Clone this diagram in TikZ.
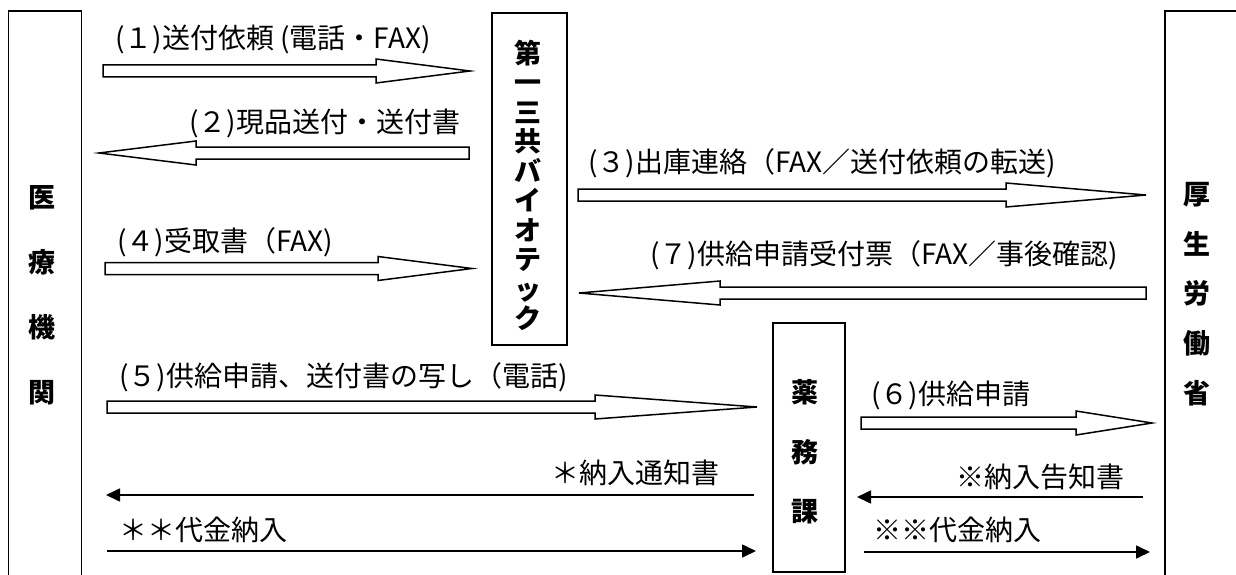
\documentclass[tikz,border=0pt]{standalone}
\usepackage{fontspec}
\newfontfamily\jp{Noto Sans CJK JP}
\usetikzlibrary{arrows.meta,calc}
\newcommand\blockarrow[3]{%
  \draw[blockarr] let \p1=(#1), \p2=(#2), \n1={sign(\x2-\x1)*(#3)} in
    (\x1,\y1-6pt) -- (\x2-\n1,\y1-6pt) -- (\x2-\n1,\y1-12pt) -- (\x2,\y2)
    -- (\x2-\n1,\y1+12pt) -- (\x2-\n1,\y1+6pt) -- (\x1,\y1+6pt) -- cycle;}
\begin{document}
\begin{tikzpicture}[x=1pt,y=-1pt,
  boxnode/.style={draw,line width=1.5pt,inner sep=0pt},
  blockarr/.style={draw,line width=1.5pt,fill=white,line join=miter},
  thinarr/.style={line width=1.6pt,-{Triangle[length=14pt,width=13pt]}},
  lab/.style={font=\jp\fontsize{28}{32}\selectfont,inner sep=0pt},
  boxtxt/.style={align=center,inner sep=0pt}]
\useasboundingbox (0,0) rectangle (1236,575);
\clip (0,0) rectangle (1236,575);
\fill[white] (0,0) rectangle (1236,575);
% boxes
\node[boxnode,minimum width=73pt,minimum height=600pt] (iryo) at (45,311) {};
\node[boxnode,minimum width=75pt,minimum height=332pt] (daiichi) at (529.5,179) {};
\node[boxnode,minimum width=72pt,minimum height=249pt] (yakumu) at (809,447.5) {};
\node[boxnode,minimum width=120pt,minimum height=600pt] (kosei) at (1225,311) {};
% box texts
\node[boxtxt,font=\jp\bfseries\fontsize{27}{65}\selectfont] (iryoT) at (42,295.5) {医\\療\\機\\関};
\node[boxtxt,font=\jp\bfseries\fontsize{27}{29.5}\selectfont] (daiichiT) at (527.5,185.5) {第\\一\\三\\共\\バ\\イ\\オ\\テ\\ッ\\ク};
\node[boxtxt,font=\jp\bfseries\fontsize{27}{59.5}\selectfont] (yakumuT) at (805,452) {薬\\務\\課};
\node[boxtxt,font=\jp\bfseries\fontsize{27}{49.6}\selectfont] (koseiT) at (1196.5,294) {厚\\生\\労\\働\\省};
% block arrow end points
\coordinate (a1t) at (103,71);   \coordinate (a1h) at (470,71);
\coordinate (a2t) at (469,153);  \coordinate (a2h) at (99,153);
\coordinate (a3t) at (578,195);  \coordinate (a3h) at (1146,195);
\coordinate (a4t) at (105,268.5);\coordinate (a4h) at (472,268.5);
\coordinate (a7t) at (1146,293); \coordinate (a7h) at (579,293);
\coordinate (a5t) at (107,407);  \coordinate (a5h) at (757,407);
\coordinate (a6t) at (861,423);  \coordinate (a6h) at (1152,423);
\blockarrow{a1t}{a1h}{94}
\blockarrow{a2t}{a2h}{97}
\blockarrow{a3t}{a3h}{140}
\blockarrow{a4t}{a4h}{94}
\blockarrow{a7t}{a7h}{141}
\blockarrow{a5t}{a5h}{162}
\blockarrow{a6t}{a6h}{76}
% thin arrows
\coordinate (t1s) at (754,495);  \coordinate (t1e) at (106,495);
\coordinate (t2s) at (107,551);  \coordinate (t2e) at (756,551);
\coordinate (t3s) at (1143,497); \coordinate (t3e) at (857,497);
\coordinate (t4s) at (864,552);  \coordinate (t4e) at (1150,552);
\draw[thinarr] (t1s) -- (t1e);
\draw[thinarr] (t2s) -- (t2e);
\draw[thinarr] (t3s) -- (t3e);
\draw[thinarr] (t4s) -- (t4e);
% labels
\node[lab,anchor=west] (l1) at (115,39) {(１)送付依頼 (電話・FAX)};
\node[lab,anchor=west] (l2) at (189,123) {(２)現品送付・送付書};
\node[lab,anchor=west] (l3) at (588,163) {(３)出庫連絡（FAX／送付依頼の転送)};
\node[lab,anchor=west] (l4) at (117,242) {(４)受取書（FAX)};
\node[lab,anchor=west] (l7) at (650,255) {(７)供給申請受付票（FAX／事後確認)};
\node[lab,anchor=west] (l5) at (119,377) {(５)供給申請、送付書の写し（電話)};
\node[lab,anchor=west] (l6) at (871,395) {(６)供給申請};
\node[lab,anchor=east] (n1) at (720,473) {＊納入通知書};
\node[lab,anchor=west] (n2) at (119,530) {＊＊代金納入};
\node[lab,anchor=east] (n3) at (1125,477) {※納入告知書};
\node[lab,anchor=west] (n4) at (873,530) {※※代金納入};
\end{tikzpicture}
\end{document}
